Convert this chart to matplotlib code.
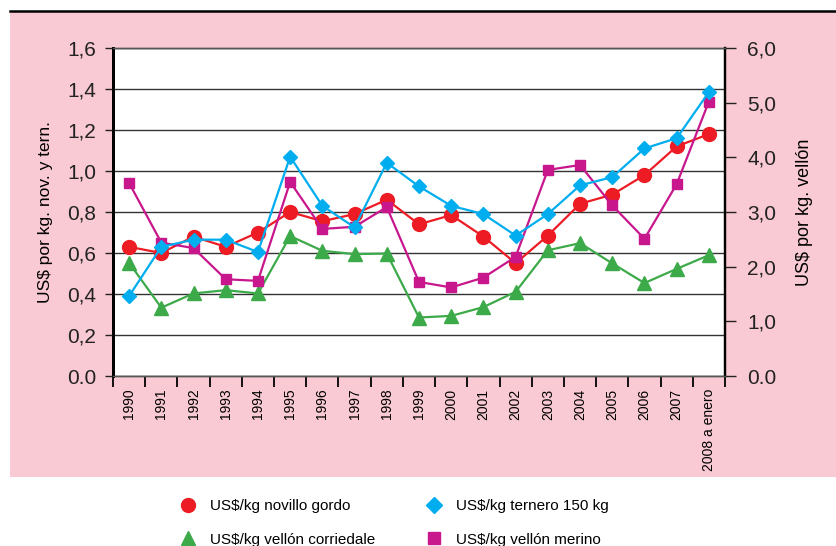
import matplotlib
matplotlib.use("Agg")
import matplotlib.pyplot as plt
from matplotlib.lines import Line2D
from matplotlib.patches import Rectangle
import numpy as np

plt.rcParams['font.family'] = ['Liberation Sans', 'DejaVu Sans']

# Datos
years = ['1990', '1991', '1992', '1993', '1994', '1995', '1996', '1997', '1998', '1999',
         '2000', '2001', '2002', '2003', '2004', '2005', '2006', '2007', '2008 a enero']

novillo = [0.63, 0.60, 0.68, 0.63, 0.70, 0.80, 0.755, 0.79, 0.86, 0.74,
           0.785, 0.68, 0.55, 0.685, 0.84, 0.885, 0.98, 1.12, 1.18]
ternero = [0.39, 0.63, 0.665, 0.665, 0.605, 1.07, 0.83, 0.725, 1.04, 0.925,
           0.83, 0.79, 0.685, 0.79, 0.93, 0.97, 1.11, 1.16, 1.385]
merino = [3.53, 2.44, 2.34, 1.77, 1.74, 3.55, 2.69, 2.73, 3.09, 1.72,
          1.62, 1.80, 2.18, 3.77, 3.86, 3.12, 2.51, 3.51, 5.02]
corriedale = [2.07, 1.25, 1.51, 1.57, 1.51, 2.56, 2.29, 2.23, 2.24, 1.07,
              1.10, 1.26, 1.54, 2.30, 2.43, 2.06, 1.70, 1.96, 2.21]

left_ticks = [0.0, 0.2, 0.4, 0.6, 0.8, 1.0, 1.2, 1.4, 1.6]
left_labels = ['0.0', '0,2', '0,4', '0,6', '0,8', '1,0', '1,2', '1,4', '1,6']
right_ticks = [0, 1, 2, 3, 4, 5, 6]
right_labels = ['0.0', '1,0', '2,0', '3,0', '4,0', '5,0', '6,0']

RED = '#ED1C24'
BLUE = '#00AEEF'
GREEN = '#3DAA4A'
MAGENTA = '#C8168C'
PINK = '#F9CAD3'

fig = plt.figure(figsize=(8.36, 5.46), dpi=100)

# Fondo rosado y linea superior
fig.patches.append(Rectangle((10/836, 69/546), 826/836, 465/546, transform=fig.transFigure,
                             facecolor=PINK, edgecolor='none', zorder=-5))
fig.add_artist(Line2D([10/836, 1], [1 - 11/546, 1 - 11/546], transform=fig.transFigure,
                      color='black', lw=1.8))

ax = fig.add_axes([113/836, 170/546, 612/836, 328/546])
ax.set_facecolor('white')
ax2 = ax.twinx()

x = np.arange(len(years))

ax.set_xlim(-0.5, len(years) - 0.5)
ax.set_ylim(0, 1.6)
ax2.set_ylim(0, 6)

# Orden de dibujo: verde, rojo, magenta, azul (vellón usa la escala derecha)
ax.plot(x, corriedale, color=GREEN, lw=1.6, marker='^', ms=9.5, zorder=2, transform=ax2.transData)
ax.plot(x, novillo, color=RED, lw=1.6, marker='o', ms=10, zorder=3)
ax.plot(x, merino, color=MAGENTA, lw=1.6, marker='s', ms=7.5, zorder=4, transform=ax2.transData)
ax.plot(x, ternero, color=BLUE, lw=1.6, marker='D', ms=7, zorder=5)
ax.set_ylim(0, 1.6)

ax.set_yticks(left_ticks)
ax.set_yticklabels(left_labels, fontsize=15)
ax2.set_yticks(right_ticks)
ax2.set_yticklabels(right_labels, fontsize=15)

ax.grid(axis='y', color='#333333', lw=1.0)
ax.set_axisbelow(True)

ax.set_xticks(np.arange(len(years) + 1) - 0.5)
ax.set_xticklabels([])
ax.set_xticks(x, minor=True)
ax.set_xticklabels(years, minor=True, rotation=90, fontsize=10, va='top')
ax.tick_params(axis='x', which='major', length=8, width=1.3, direction='out')
ax.tick_params(axis='x', which='minor', length=0, pad=9)
ax.tick_params(axis='y', length=6, width=1.0, pad=6, colors='#222222')
ax2.tick_params(axis='y', length=8, width=1.0, pad=8, colors='#222222')

for a in (ax, ax2):
    a.spines['top'].set_color('#555555')
    a.spines['top'].set_linewidth(1.0)
    a.spines['bottom'].set_color('#555555')
    a.spines['bottom'].set_linewidth(1.0)
    a.spines['left'].set_linewidth(2.0)
    a.spines['left'].set_color('black')
    a.spines['right'].set_linewidth(1.6)
    a.spines['right'].set_color('black')

ax.set_ylabel('US$ por kg. nov. y tern.', fontsize=12.5, labelpad=10)
ax2.set_ylabel('US$ por kg. vellón', fontsize=13, labelpad=14)

# Leyenda
handles = [
    Line2D([], [], color=RED, marker='o', ls='none', ms=10),
    Line2D([], [], color=GREEN, marker='^', ms=10, ls='none'),
    Line2D([], [], color=BLUE, marker='D', ms=8, ls='none'),
    Line2D([], [], color=MAGENTA, marker='s', ms=8, ls='none'),
]
labels = ['US$/kg novillo gordo', 'US$/kg vellón corriedale',
          'US$/kg ternero 150 kg', 'US$/kg vellón merino']
fig.legend(handles, labels, ncol=2, loc='upper left', bbox_to_anchor=(179/836, 1 - 499/546),
           frameon=False, fontsize=11, borderpad=0, borderaxespad=0, handlelength=1.2,
           handletextpad=0.8, labelspacing=1.28, columnspacing=3.3)

fig.savefig('out.png', dpi=100)
